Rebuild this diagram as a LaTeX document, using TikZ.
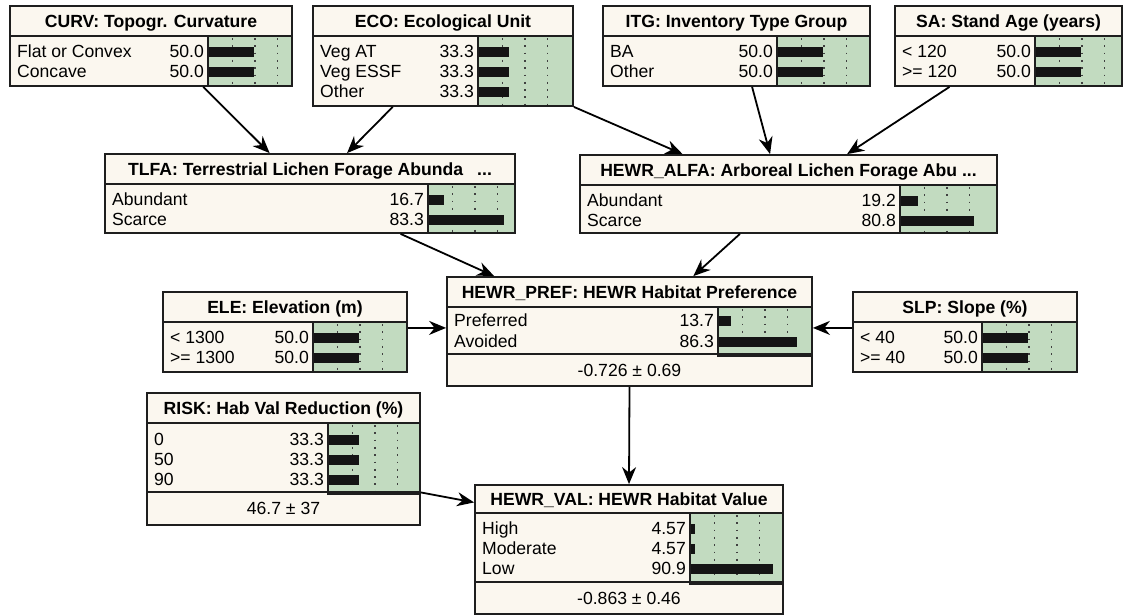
\documentclass[tikz,border=0pt]{standalone}
\usepackage{fontspec}
\setmainfont{Liberation Sans}
\usetikzlibrary{fit,calc,arrows.meta}
\definecolor{cream}{RGB}{251,247,239}
\definecolor{bngreen}{RGB}{194,219,192}
\definecolor{frame}{RGB}{30,30,30}
\tikzset{
 boxstyle/.style={draw=frame, fill=cream, line width=1.8pt, inner sep=0pt},
 sepline/.style={draw=frame, line width=2pt},
 titlestyle/.style={font=\fontsize{17.6}{20}\selectfont\bfseries, inner sep=0pt, anchor=base},
 rowtext/.style={font=\fontsize{17.6}{20}\selectfont, inner sep=0pt},
 greenbox/.style={fill=bngreen, draw=frame, line width=1.4pt},
 dotline/.style={draw=black!75, line width=1.8pt, dash pattern=on 1.8pt off 5.5pt},
 barfill/.style={fill=black!92},
 arr/.style={draw=black, line width=1.8pt, -{Stealth[length=17pt,width=14pt]}},
}
\newcommand\bnbox[7]{%
  \node[boxstyle, fit={(#2,#3) (#4,#5)}] (#1) {};
  \draw[sepline] (#2,#6) -- (#4,#6);
  \node[titlestyle] (#1-t) at ({(#2+#4)/2},{(#3+#6)/2+6}) {#7};}
\newcommand\bngreen[4]{%
  \path[greenbox] (#1,#3) rectangle (#2,#4);
  \foreach \k in {1,2,3}{\draw[dotline] ({#1+2+22.5*\k},#3+2) -- ({#1+2+22.5*\k},#4-1);}}
\newcommand\bnrow[7]{%
  \node[rowtext, anchor=base west] (#1-l) at (#2+7,#4+6) {#5};
  \node[rowtext, anchor=base east] (#1-v) at (#3-4,#4+6) {#6};
  \fill[barfill] (#3+1,#4-4) rectangle ({#3+1+0.9*#7},#4+6);}
\newcommand\bnmean[6]{%
  \draw[sepline] (#2,#4) -- (#3,#4);
  \node[rowtext, anchor=base] (#1-m) at ({(#2+#3)/2},{(#4+#5)/2+6}) {#6};}
\begin{document}
\begin{tikzpicture}[x=1pt,y=-1pt]
\useasboundingbox[fill=white] (0,0) rectangle (1125,616);

% CURV
\bnbox{curv}{10}{6}{292}{86}{36}{CURV: Topogr. Curvature}
\bngreen{208}{292}{36}{86}
\bnrow{curv1}{10}{208}{51}{Flat or Convex}{50.0}{50}
\bnrow{curv2}{10}{208}{71}{Concave}{50.0}{50}

% ECO
\bnbox{eco}{313}{6}{573}{106}{36}{ECO: Ecological Unit}
\bngreen{478}{573}{36}{106}
\bnrow{eco1}{313}{478}{51}{Veg AT}{33.3}{33.3}
\bnrow{eco2}{313}{478}{71}{Veg ESSF}{33.3}{33.3}
\bnrow{eco3}{313}{478}{91}{Other}{33.3}{33.3}

% ITG
\bnbox{itg}{603}{6}{870}{86}{36}{ITG: Inventory Type Group}
\bngreen{777}{870}{36}{86}
\bnrow{itg1}{603}{777}{51}{BA}{50.0}{50}
\bnrow{itg2}{603}{777}{71}{Other}{50.0}{50}

% SA
\bnbox{sa}{895}{6}{1122}{86}{36}{SA: Stand Age (years)}
\bngreen{1035}{1122}{36}{86}
\bnrow{sa1}{895}{1035}{51}{< 120}{50.0}{50}
\bnrow{sa2}{895}{1035}{71}{>= 120}{50.0}{50}

% TLFA
\bnbox{tlfa}{105}{154}{515}{233}{184}{TLFA: Terrestrial Lichen Forage Abunda\hspace{14pt}...}
\bngreen{428}{515}{184}{233}
\bnrow{tlfa1}{105}{428}{199}{Abundant}{16.7}{16.7}
\bnrow{tlfa2}{105}{428}{219}{Scarce}{83.3}{83.3}

% HEWR_ALFA
\bnbox{alfa}{580}{155}{997}{233}{185}{HEWR\_ALFA: Arboreal Lichen Forage Abu ...}
\bngreen{900}{997}{185}{233}
\bnrow{alfa1}{580}{900}{200}{Abundant}{19.2}{19.2}
\bnrow{alfa2}{580}{900}{220}{Scarce}{80.8}{80.8}

% HEWR_PREF
\bnbox{pref}{447}{277}{812}{386}{307}{HEWR\_PREF: HEWR Habitat Preference}
\bngreen{718}{812}{307}{356}
\bnrow{pref1}{447}{718}{320}{Preferred}{13.7}{13.7}
\bnrow{pref2}{447}{718}{341}{Avoided}{86.3}{86.3}
\bnmean{pref}{447}{812}{354}{386}{-0.726 ± 0.69}

% ELE
\bnbox{ele}{163}{292}{407}{372}{322}{ELE: Elevation (m)}
\bngreen{313}{407}{322}{372}
\bnrow{ele1}{163}{313}{337}{< 1300}{50.0}{50}
\bnrow{ele2}{163}{313}{357}{>= 1300}{50.0}{50}

% SLP
\bnbox{slp}{853}{292}{1077}{372}{322}{SLP: Slope (\%)}
\bngreen{982}{1077}{322}{372}
\bnrow{slp1}{853}{982}{337}{< 40}{50.0}{50}
\bnrow{slp2}{853}{982}{357}{>= 40}{50.0}{50}

% RISK
\bnbox{risk}{147}{393}{420}{525}{423}{RISK: Hab Val Reduction (\%)}
\bngreen{328}{420}{423}{494}
\bnrow{risk1}{147}{328}{439}{0}{33.3}{33.3}
\bnrow{risk2}{147}{328}{459}{50}{33.3}{33.3}
\bnrow{risk3}{147}{328}{479}{90}{33.3}{33.3}
\bnmean{risk}{147}{420}{492}{525}{46.7 ± 37}

% HEWR_VAL
\bnbox{val}{475}{485}{783}{614}{513}{HEWR\_VAL: HEWR Habitat Value}
\bngreen{690}{783}{513}{584}
\bnrow{val1}{475}{690}{528}{High}{4.57}{4.57}
\bnrow{val2}{475}{690}{548}{Moderate}{4.57}{4.57}
\bnrow{val3}{475}{690}{568}{Low}{90.9}{90.9}
\bnmean{val}{475}{783}{582}{614}{-0.863 ± 0.46}

% connectors
\draw[arr] ($(curv.south west)!0.684!(curv.south east)$) -- ($(tlfa.north west)!0.402!(tlfa.north east)$);
\draw[arr] ($(eco.south west)!0.308!(eco.south east)$) -- ($(tlfa.north west)!0.590!(tlfa.north east)$);
\draw[arr] (eco.south east) -- ($(alfa.north west)!0.247!(alfa.north east)$);
\draw[arr] ($(itg.south west)!0.558!(itg.south east)$) -- ($(alfa.north west)!0.456!(alfa.north east)$);
\draw[arr] ($(sa.south west)!0.242!(sa.south east)$) -- ($(alfa.north west)!0.640!(alfa.north east)$);
\draw[arr] ($(tlfa.south west)!0.72!(tlfa.south east)$) -- ($(pref.north west)!0.131!(pref.north east)$);
\draw[arr] ($(alfa.south west)!0.384!(alfa.south east)$) -- ($(pref.north west)!0.674!(pref.north east)$);
\draw[arr] ($(ele.north east)!0.45!(ele.south east)$) coordinate (elep) -- (elep -| pref.west);
\draw[arr] ($(slp.north west)!0.45!(slp.south west)$) coordinate (slpp) -- (slpp -| pref.east);
\draw[arr] (pref.south) -- (val.north);
\draw[arr] ($(risk.north east)!0.75!(risk.south east)$) -- ($(val.north west)!0.14!(val.south west)$);
\end{tikzpicture}
\end{document}
